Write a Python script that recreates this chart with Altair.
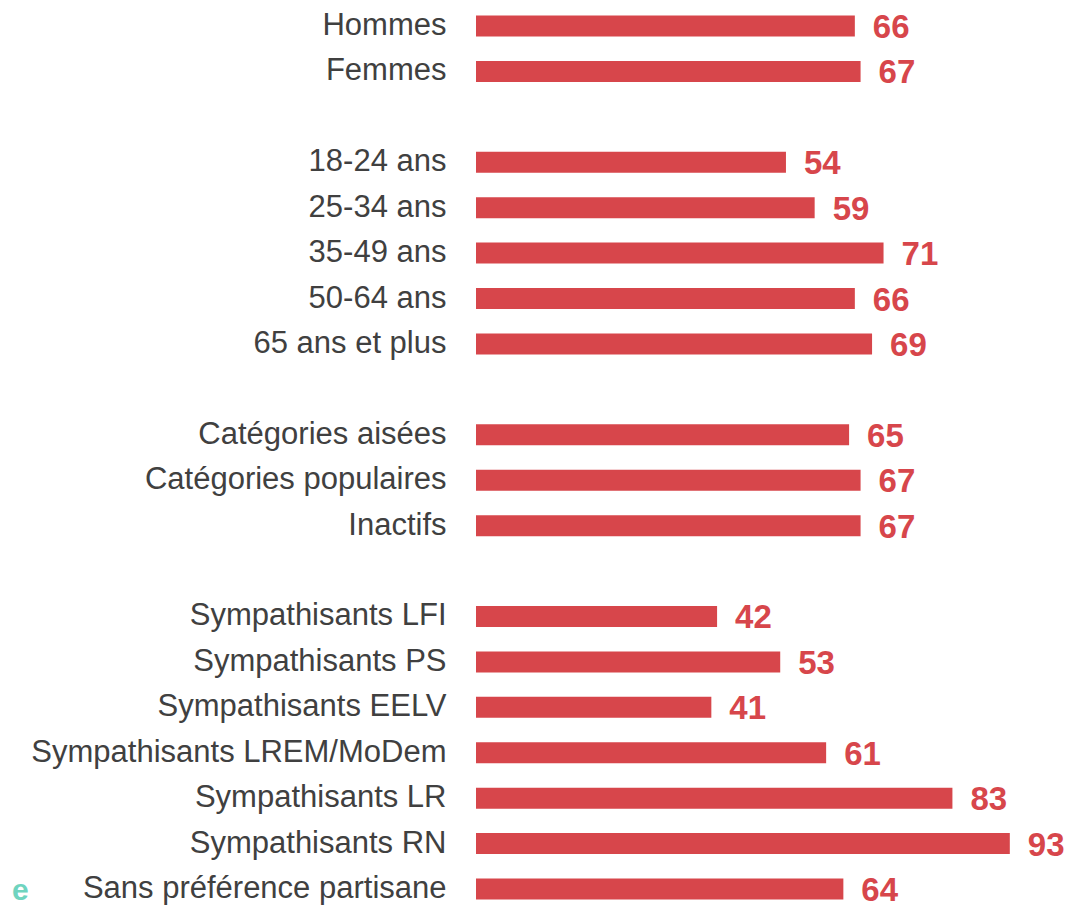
import altair as alt
import pandas as pd

categories = [
    "Hommes", "Femmes", " ",
    "18-24 ans", "25-34 ans", "35-49 ans", "50-64 ans", "65 ans et plus", "  ",
    "Catégories aisées", "Catégories populaires", "Inactifs", "   ",
    "Sympathisants LFI", "Sympathisants PS", "Sympathisants EELV",
    "Sympathisants LREM/MoDem", "Sympathisants LR", "Sympathisants RN",
    "Sans préférence partisane",
]
labels = [
    "Hommes", "Femmes",
    "18-24 ans", "25-34 ans", "35-49 ans", "50-64 ans", "65 ans et plus",
    "Catégories aisées", "Catégories populaires", "Inactifs",
    "Sympathisants LFI", "Sympathisants PS", "Sympathisants EELV",
    "Sympathisants LREM/MoDem", "Sympathisants LR", "Sympathisants RN",
    "Sans préférence partisane",
]
values = [66, 67, 54, 59, 71, 66, 69, 65, 67, 67, 42, 53, 41, 61, 83, 93, 64]
stray_text = ["e"]

df = pd.DataFrame({"cat": labels, "val": values})

RED = "#D7464B"

y_enc = alt.Y(
    "cat:N",
    scale=alt.Scale(domain=categories, range=[0, 895],
                    paddingInner=0.5377, paddingOuter=0.121),
    axis=alt.Axis(title=None, ticks=False, domain=False, grid=False,
                  labelFontSize=31, labelFont="Liberation Sans",
                  labelColor="#404040", labelPadding=30, labelLimit=0),
)
x_enc = alt.X("val:Q", scale=alt.Scale(domain=[0, 100]), axis=None)

base = alt.Chart(df)
bars = base.mark_bar(color=RED).encode(x=x_enc, y=y_enc)
nums = base.mark_text(align="left", baseline="middle", dx=18, dy=2,
                      fontSize=33, fontWeight="bold", font="Liberation Sans",
                      color=RED).encode(x=x_enc, y=y_enc, text="val:Q")

stray = alt.Chart(pd.DataFrame({"t": stray_text})).mark_text(
    align="left", baseline="middle", fontSize=30, fontWeight="bold",
    font="Liberation Sans", color="#6FD4BF"
).encode(x=alt.value(-464), y=alt.value(881), text="t:N")

chart = alt.layer(bars, nums, stray).properties(
    width=574, height=903,
    autosize=alt.AutoSizeParams(type="none"),
    padding={"left": 468, "top": 2, "right": 18, "bottom": 0},
).configure_view(stroke=None)

chart.save("out.html", embed_options={"renderer": "svg", "actions": False})
